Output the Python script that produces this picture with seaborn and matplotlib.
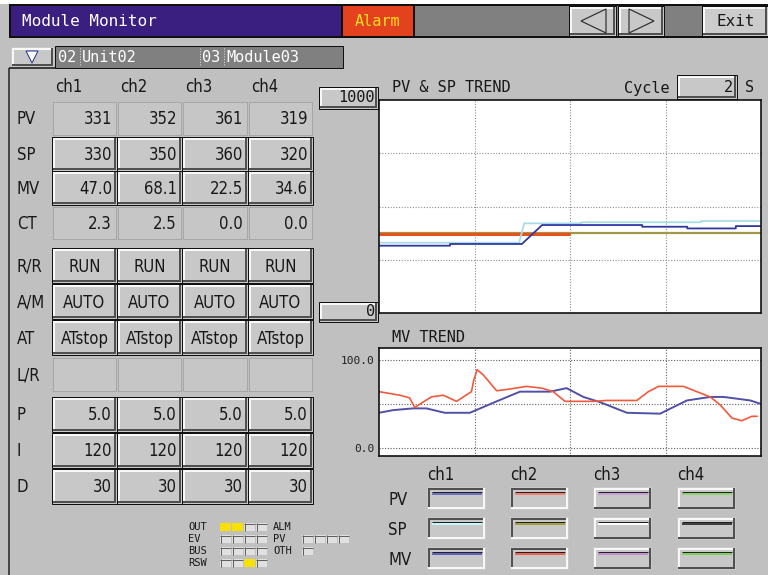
import numpy as np
import pandas as pd
import matplotlib
matplotlib.use("Agg")
import matplotlib.pyplot as plt
import seaborn as sns
from matplotlib.patches import Rectangle, Polygon
import matplotlib.patheffects as pe
from matplotlib import font_manager

sns.set_theme(style="white")
plt.rcParams["font.family"] = ["DejaVu Sans"]

# ---------------- data ----------------
channels = ["ch1", "ch2", "ch3", "ch4"]
row_labels = ["PV", "SP", "MV", "CT", "R/R", "A/M", "AT", "L/R", "P", "I", "D"]
pv_vals = ["331", "352", "361", "319"]
sp_vals = ["330", "350", "360", "320"]
mv_vals = ["47.0", "68.1", "22.5", "34.6"]
ct_vals = ["2.3", "2.5", "0.0", "0.0"]
rr_vals = ["RUN", "RUN", "RUN", "RUN"]
am_vals = ["AUTO", "AUTO", "AUTO", "AUTO"]
at_vals = ["ATstop", "ATstop", "ATstop", "ATstop"]
lr_vals = ["", "", "", ""]
p_vals = ["5.0", "5.0", "5.0", "5.0"]
i_vals = ["120", "120", "120", "120"]
d_vals = ["30", "30", "30", "30"]

# PV & SP trend (time 0-100, value 0-1000)
ch1_pv_t = [0, 18.6, 18.6, 37.4, 42.7, 68.9, 68.9, 80.7, 80.7, 93.4, 93.4, 100]
ch1_pv_v = [316, 316, 324, 324, 413, 413, 405, 405, 397, 397, 408, 408]
ch1_sp_t = [0, 36.7, 38.0, 53.0, 53.0, 84.3, 84.3, 100]
ch1_sp_v = [330, 330, 421, 421, 426, 426, 432, 432]
ch2_pv_t = [0, 49.7]
ch2_pv_v = [369, 369]
ch2_sp_t = [0, 100]
ch2_sp_v = [374, 374]

# MV trend (time 0-100, value 0-100 %)
mv_ch2_t = [0, 5.4, 8.0, 9.4, 11.1, 13.7, 16.8, 20.3, 24.2, 24.8, 25.7, 27.3, 30.8,
            34.3, 38.6, 42.6, 45.6, 48.7, 56.1, 59.6, 67.5, 70.5, 73.2, 79.7, 83.2,
            86.7, 89.3, 92.4, 95.0, 97.6, 99.0]
mv_ch2_v = [64, 60, 57, 46, 51, 58, 60, 53, 64, 77, 89, 83, 65, 67, 70, 68, 64, 53,
            53, 54, 54, 64, 70, 70, 64, 58, 49, 34, 31, 36, 36]
mv_ch1_t = [0, 3.7, 8.9, 12.4, 17.2, 23.8, 30.8, 36.9, 44.8, 49.1, 53.5, 57.9, 64.9,
            73.6, 80.6, 86.7, 90.2, 97.2, 100]
mv_ch1_v = [40, 43, 45, 45, 40, 40, 53, 64, 64, 68, 58, 52, 40, 39, 54, 58, 58, 54, 50]

legend_rows = ["PV", "SP", "MV"]
legend_colors = [
    ["#7070C0", "#F08070", "#C8A0D8", "#90D070"],
    ["#C8F4F4", "#A0A040", "#FFFFFF", "#404040"],
    ["#6060C0", "#F06050", "#C090D0", "#80D060"],
]

status_left = ["OUT", "EV", "BUS", "RSW"]
status_left_flags = [[1, 1, 0, 0], [0, 0, 0, 0], [0, 0, 0, 0], [0, 0, 1, 0]]
status_right = ["ALM", "PV", "OTH"]
status_right_flags = [[], [0, 0, 0, 0], [0]]

# ---------------- figure ----------------
BG = "#C0C0C0"
BTN = "#C8C8C8"
PX = 0.72
FONT = "DejaVu Sans"
MONO = "DejaVu Sans Mono"
HAS_COND = any(f.name == "DejaVu Sans" and str(f.stretch) in ("condensed", "semi-condensed", "75", "87")
               for f in font_manager.fontManager.ttflist)
STRETCH = "condensed" if HAS_COND else "normal"
TSIZE = 12 if HAS_COND else 11

fig = plt.figure(figsize=(7.68, 5.75), dpi=100)
fig.patch.set_facecolor(BG)
ax = fig.add_axes([0, 0, 1, 1])
ax.set_xlim(0, 768)
ax.set_ylim(575, 0)
ax.axis("off")
ax.set_zorder(0)


def box(x0, y0, x1, y1, fc, ec="none", lw=1, ls="-", z=1):
    ax.add_patch(Rectangle((x0, y0), x1 - x0, y1 - y0, facecolor=fc, edgecolor=ec,
                           linewidth=lw * PX, linestyle=ls, zorder=z))


def hline(x0, x1, y, c, lw=1, z=2, ls="-"):
    ax.plot([x0, x1], [y, y], color=c, lw=lw * PX, zorder=z, ls=ls, solid_capstyle="butt")


def vline(x, y0, y1, c, lw=1, z=2, ls="-"):
    ax.plot([x, x], [y0, y1], color=c, lw=lw * PX, zorder=z, ls=ls, solid_capstyle="butt")


def bevel(x0, y0, x1, y1, fc=BTN, raised=True, w=2, outline=True):
    box(x0, y0, x1, y1, fc, ec="#101010" if outline else "none", lw=1)
    light, dark = ("#F8F8F8", "#505050") if raised else ("#505050", "#F8F8F8")
    o = 1 + w / 2
    hline(x0 + 1, x1 - 1, y0 + o, light, w)
    vline(x0 + o, y0 + 1, y1 - 1, light, w)
    hline(x0 + 1, x1 - 1, y1 - o, dark, w)
    vline(x1 - o, y0 + 1, y1 - 1, dark, w)


def txt(x, y, s, size=11, color="#181818", ha="left", va="center", family=FONT, z=5, **kw):
    ax.text(x, y, s, fontsize=size, color=color, ha=ha, va=va, family=family, zorder=z, **kw)


def ttxt(x, y, s, **kw):
    kw.setdefault("size", TSIZE)
    txt(x, y, s, fontstretch=STRETCH, **kw)


# top white strip
box(0, 0, 768, 4, "white", z=0.5)
# top bar
box(9, 4, 768, 38, "#101010")
box(11, 6, 341, 36, "#3A1E80")
txt(22, 21, "Module Monitor", size=11.5, color="white", family=MONO)
box(343, 6, 413, 36, "#E4421E")
txt(378, 21, "Alarm", size=11, color="#F8E020", ha="center", family=MONO)
box(415, 6, 768, 36, "#808080")
bevel(569, 6, 616, 36)
bevel(618, 6, 664, 36)
bevel(702, 6, 768, 36, fc="#CCCCCC")
ax.add_patch(Polygon([[581, 21], [606, 9], [606, 33]], closed=True, facecolor=BTN,
                     edgecolor="#303030", lw=1.2 * PX, zorder=4))
ax.add_patch(Polygon([[629, 9], [629, 33], [654, 21]], closed=True, facecolor=BTN,
                     edgecolor="#303030", lw=1.2 * PX, zorder=4))
txt(736, 22, "Exit", size=11.5, ha="center", family=MONO)

# second row
box(55, 46, 343, 68, "#808080", ec="#101010")
bevel(11, 47, 54, 67, raised=True, outline=False)
hline(9, 55, 68, "#101010", 1.5)
ax.add_patch(Polygon([[26, 51], [38, 51], [32, 63]], closed=True, facecolor="white",
                     edgecolor="#2030A0", lw=1.0 * PX, zorder=6))
for xs in (80, 200, 224):
    vline(xs, 48, 66, "#E0E0E0", 1, ls=":")
txt(58, 58, "02", size=11, color="white", family=MONO)
txt(82, 58, "Unit02", size=11, color="white", family=MONO)
txt(202, 58, "03", size=11, color="white", family=MONO)
txt(226, 58, "Module03", size=11, color="white", family=MONO)

# left panel border
vline(9, 68, 575, "#202020", 1.5)

# ---------------- table ----------------
col_edges = [52, 117, 182, 248, 313]
row_spans = [(101, 136), (137, 171), (171, 205), (206, 240), (248, 283), (284, 319),
             (320, 355), (357, 392), (397, 432), (433, 468), (469, 504)]
row_values = [pv_vals, sp_vals, mv_vals, ct_vals, rr_vals, am_vals, at_vals, lr_vals,
              p_vals, i_vals, d_vals]
dotted_rows = {"PV", "CT", "L/R"}
centered_rows = {"R/R", "A/M", "AT"}

for j, ch in enumerate(channels):
    ttxt(col_edges[j] + 3, 87, ch)

for r, lab in enumerate(row_labels):
    y0, y1 = row_spans[r]
    yc = (y0 + y1) / 2 + 1
    ttxt(17, yc, lab)
    for j in range(4):
        x0, x1 = col_edges[j], col_edges[j + 1]
        if lab in dotted_rows:
            box(x0 + 1, y0 + 1, x1 - 1, y1 - 1, "#C6C6C6", ec="#8A8A8A", lw=1, ls=(0, (1, 1)))
        else:
            bevel(x0, y0, x1, y1)
        v = row_values[r][j]
        if lab in centered_rows:
            ttxt((x0 + x1) / 2, yc, v, ha="center")
        elif v:
            ttxt(x1 - 5, yc, v, ha="right")

# status indicators
def flag_box(x, y, on):
    box(x, y - 4, x + 11, y + 4, "#F8E000" if on else "#E0E0E0", z=3)
    if not on:
        hline(x, x + 11, y - 3.5, "#606060", 1, z=4)
        vline(x + 0.5, y - 4, y + 4, "#606060", 1, z=4)

for k, (lab, flags) in enumerate(zip(status_left, status_left_flags)):
    yy = 527 + 12 * k
    txt(188, yy, lab, size=7.5, family=MONO)
    for m, f in enumerate(flags):
        flag_box(220 + 12 * m, yy, f)
for k, (lab, flags) in enumerate(zip(status_right, status_right_flags)):
    yy = 527 + 12 * k
    txt(273, yy, lab, size=7.5, family=MONO)
    for m, f in enumerate(flags):
        flag_box(302 + 12 * m, yy, f)

# ---------------- PV & SP trend ----------------
txt(392, 88, "PV & SP TREND", size=11, family=MONO)
txt(624, 88, "Cycle", size=11, family=MONO)
bevel(677, 75, 737, 99, outline=True)
txt(733, 87, "2", size=11, ha="right", family=MONO)
txt(745, 88, "S", size=11, family=MONO)
bevel(319, 87, 378, 109)
txt(375, 98, "1000", size=11, ha="right", family=MONO)
bevel(319, 302, 378, 322)
txt(375, 312, "0", size=11, ha="right", family=MONO)

W, H = 768.0, 575.0
ax_pv = fig.add_axes([379 / W, 1 - 313 / H, 382 / W, 213 / H])
ax_pv.set_zorder(2)
ax_pv.set_facecolor("white")
sns.lineplot(x=ch2_sp_t, y=ch2_sp_v, color="#A09848", lw=1.6, estimator=None, sort=False, ax=ax_pv)
sns.lineplot(x=ch2_pv_t, y=ch2_pv_v, color="#E8501E", lw=2.2, estimator=None, sort=False, ax=ax_pv)
sns.lineplot(x=ch1_sp_t, y=ch1_sp_v, color="#A8DDE6", lw=1.3, estimator=None, sort=False, ax=ax_pv)
sns.lineplot(x=ch1_pv_t, y=ch1_pv_v, color="#3038A0", lw=1.3, estimator=None, sort=False, ax=ax_pv)
ax_pv.set_xlim(0, 100)
ax_pv.set_ylim(0, 1000)
ax_pv.set_xticks([25, 50, 75])
ax_pv.set_yticks([250, 500, 750])
ax_pv.set_xticklabels([])
ax_pv.set_yticklabels([])
ax_pv.tick_params(length=0)
ax_pv.set_axisbelow(True)
ax_pv.grid(True, ls=(0, (1, 1.5)), color="#909090", lw=0.8)
ax_pv.set_xlabel("")
ax_pv.set_ylabel("")
for s in ax_pv.spines.values():
    s.set_color("#101010")
    s.set_linewidth(1.2)

# ---------------- MV trend ----------------
txt(392, 338, "MV TREND", size=11, family=MONO)
ax_mv = fig.add_axes([379 / W, 1 - 456 / H, 382 / W, 108 / H])
ax_mv.set_zorder(2)
ax_mv.set_facecolor("white")
sns.lineplot(x=mv_ch1_t, y=mv_ch1_v, color="#5050A8", lw=1.4, estimator=None, sort=False, ax=ax_mv)
sns.lineplot(x=mv_ch2_t, y=mv_ch2_v, color="#F05A3C", lw=1.2, estimator=None, sort=False, ax=ax_mv)
ax_mv.set_xlim(0, 100)
ax_mv.set_ylim(-9.1, 113.6)
ax_mv.set_xticks([25, 50, 75])
ax_mv.set_yticks([0, 50, 100])
ax_mv.set_xticklabels([])
ax_mv.set_yticklabels(["0.0", "", "100.0"], family=MONO, fontsize=8, color="#202020")
ax_mv.tick_params(length=0, pad=3)
ax_mv.set_axisbelow(True)
ax_mv.grid(True, ls=(0, (1, 1.5)), color="#606060", lw=0.8)
ax_mv.set_xlabel("")
ax_mv.set_ylabel("")
for s in ax_mv.spines.values():
    s.set_color("#101010")
    s.set_linewidth(1.2)

# ---------------- legend swatches ----------------
leg_x = [427, 510, 593, 677]
leg_y = [487, 517, 547]
for j, ch in enumerate(channels):
    ttxt(leg_x[j], 475, ch)
for r, lab in enumerate(legend_rows):
    ttxt(388, leg_y[r] + 13, lab)
    for j in range(4):
        x0, y0 = leg_x[j], leg_y[r]
        x1, y1 = x0 + 59, y0 + 23
        bevel(x0, y0, x1, y1, fc=BTN, raised=(j >= 2), outline=False)
        hline(x0 + 5, x1 - 4, y0 + 5, "#202020", 1, z=3)
        hline(x0 + 5, x1 - 4, y0 + 6.5, legend_colors[r][j], 2, z=4)

fig.savefig("out.png", dpi=100, facecolor=fig.get_facecolor())
